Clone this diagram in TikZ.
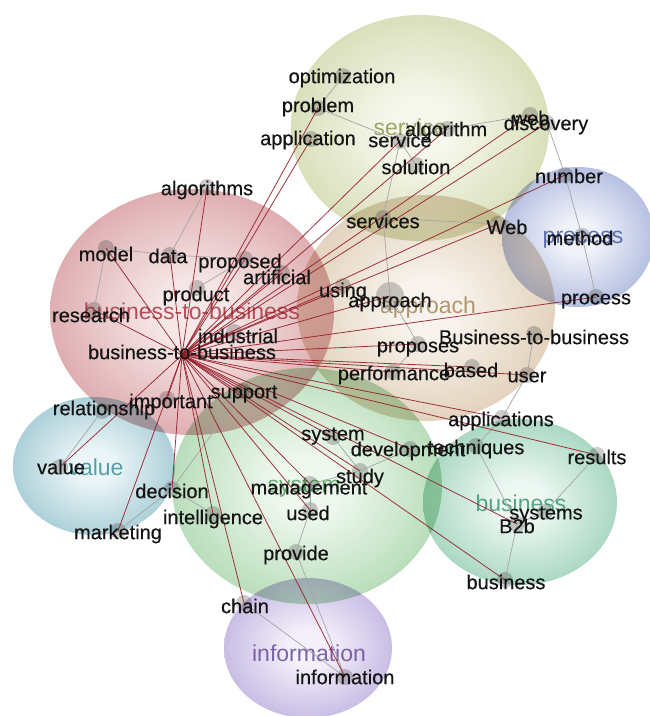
\documentclass[tikz,border=0pt]{standalone}
\usepackage{fontspec}
\setmainfont{Liberation Sans}
\newfontfamily\lblfont[FakeBold=0.4]{Liberation Sans}
\definecolor{rO}{RGB}{198,112,118}\definecolor{rI}{RGB}{246,230,230}
\definecolor{oO}{RGB}{186,198,134}\definecolor{oI}{RGB}{246,248,236}
\definecolor{tO}{RGB}{204,176,138}\definecolor{tI}{RGB}{248,243,236}
\definecolor{bO}{RGB}{120,138,200}\definecolor{bI}{RGB}{240,242,250}
\definecolor{vO}{RGB}{105,168,184}\definecolor{vI}{RGB}{234,245,247}
\definecolor{sO}{RGB}{128,194,132}\definecolor{sI}{RGB}{238,248,238}
\definecolor{gO}{RGB}{100,182,144}\definecolor{gI}{RGB}{236,248,242}
\definecolor{pO}{RGB}{156,134,206}\definecolor{pI}{RGB}{244,240,251}
\definecolor{redline}{RGB}{150,30,42}
\definecolor{grayline}{RGB}{165,165,165}
\definecolor{labR}{RGB}{165,55,65}
\definecolor{labO}{RGB}{140,152,80}
\definecolor{labT}{RGB}{165,135,90}
\definecolor{labB}{RGB}{70,92,165}
\definecolor{labV}{RGB}{60,145,155}
\definecolor{labS}{RGB}{80,160,90}
\definecolor{labG}{RGB}{60,150,110}
\definecolor{labP}{RGB}{105,75,155}
\newcommand\clshade[3]{\pgfdeclareradialshading{#1}{\pgfpoint{0bp}{0bp}}{color(0bp)=(#2); color(6bp)=(#2); color(42bp)=(#3); color(50bp)=(#3)}}
\clshade{shR}{rI}{rO}
\clshade{shO}{oI}{oO}
\clshade{shT}{tI}{tO}
\clshade{shB}{bI}{bO}
\clshade{shV}{vI}{vO}
\clshade{shS}{sI}{sO}
\clshade{shG}{gI}{gO}
\clshade{shP}{pI}{pO}
\begin{document}
\begin{tikzpicture}[x=1pt,y=-1pt,
  lbl/.style={inner sep=0pt,text=black!92,font=\lblfont\fontsize{20}{20}\selectfont},
  clab/.style={inner sep=0pt,text opacity=0.85,font=\fontsize{23}{23}\selectfont},
  dot/.style={circle,fill=black,fill opacity=0.2,minimum size=16pt,inner sep=0pt},
  bigdot/.style={circle,fill=black,fill opacity=0.2,minimum size=28pt,inner sep=0pt},
  hubdot/.style={circle,fill=redline,minimum size=3pt,inner sep=0pt},
  rl/.style={draw=redline,line width=0.8pt,opacity=0.9},
  gl/.style={draw=grayline,line width=0.7pt},
  blob/.style={blend mode=multiply,fill opacity=0.92}]
\useasboundingbox (0,0) rectangle (650,716);
\fill[white] (0,0) rectangle (650,716);
% clusters
\shade[blob,shading=shR] (192,312) ellipse [x radius=142,y radius=123];
\shade[blob,shading=shV] (94,466) ellipse [x radius=81,y radius=69];
\shade[blob,shading=shS] (307,486) ellipse [x radius=135,y radius=118];
\shade[blob,shading=shP] (308,648) ellipse [x radius=84,y radius=70];
\shade[blob,shading=shG] (520,502) ellipse [x radius=97,y radius=83];
\shade[blob,shading=shO] (420,128) ellipse [x radius=129,y radius=113];
\shade[blob,shading=shT] (426,308) ellipse [x radius=129,y radius=113];
\shade[blob,shading=shB] (578,237) ellipse [x radius=76,y radius=70];
% cluster labels
\node[clab,text=labR] (c-b2b) at (192,311) {business-to-business};
\node[clab,text=labO] (c-service) at (410,127) {service};
\node[clab,text=labT] (c-approach) at (428,308) {approach};
\node[clab,text=labB] (c-process) at (583,240) {process};
\node[clab,text=labV] (c-value) at (96,467) {value};
\node[clab,text=labS] (c-system) at (304,487) {system};
\node[clab,text=labG] (c-business) at (521,503) {business};
\node[clab,text=labP] (c-information) at (309,653) {information};
% dots
\node[dot] (optimization) at (343,76) {};
\node[dot] (problem) at (318,108) {};
\node[dot] (application) at (311,139) {};
\node[dot] (service) at (400,141) {};
\node[dot] (algorithm) at (447,129) {};
\node[dot] (web) at (530,115) {};
\node[dot] (discovery) at (547,123) {};
\node[dot] (solution) at (416,165) {};
\node[dot] (number) at (565,175) {};
\node[dot] (services) at (383,218) {};
\node[dot] (Web) at (498,224) {};
\node[dot] (method) at (582,236) {};
\node[dot] (algorithms) at (207,187) {};
\node[dot] (model) at (106,248) {};
\node[dot] (data) at (170,255) {};
\node[dot] (proposed) at (245,259) {};
\node[dot] (artificial) at (282,273) {};
\node[dot] (product) at (197,288) {};
\node[dot] (using) at (343,286) {};
\node[bigdot] (approach) at (390,296) {};
\node[dot] (research) at (94,310) {};
\node[dot] (industrial) at (234,332) {};
\node[dot] (B2Bcap) at (534,334) {};
\node[dot] (process) at (596,297) {};
\node[dot] (proposes) at (418,344) {};
\node[dot] (performance) at (393,372) {};
\node[dot] (based) at (472,367) {};
\node[dot] (user) at (527,375) {};
\node[dot] (relationship) at (102,411) {};
\node[dot] (important) at (167,399) {};
\node[dot] (support) at (243,391) {};
\node[dot] (applications) at (502,418) {};
\node[dot] (system) at (333,437) {};
\node[dot] (development) at (410,449) {};
\node[dot] (techniques) at (476,446) {};
\node[dot] (results) at (597,455) {};
\node[dot] (value) at (60,467) {};
\node[dot] (study) at (360,471) {};
\node[dot] (management) at (310,484) {};
\node[dot] (decision) at (172,489) {};
\node[dot] (used) at (310,510) {};
\node[dot] (intelligence) at (213,514) {};
\node[dot] (marketing) at (118,531) {};
\node[dot] (systems) at (545,512) {};
\node[dot] (B2b) at (517,524) {};
\node[dot] (provide) at (296,552) {};
\node[dot] (business) at (505,580) {};
\node[dot] (chain) at (244,603) {};
\node[dot] (information) at (345,677) {};
\node[hubdot] (hub) at (182,355) {};
% gray connectors
\foreach \a/\b in {optimization/problem,problem/service,service/algorithm,algorithm/web,
  service/solution,service/services,services/Web,services/approach,discovery/number,
  number/method,method/process,approach/proposes,proposes/performance,B2Bcap/user,
  user/applications,applications/techniques,techniques/B2b,results/systems,systems/B2b,
  B2b/business,development/study,system/study,study/management,management/used,used/provide,
  provide/information,chain/information,decision/intelligence,decision/marketing,
  relationship/value,decision/support,model/data,model/research,data/algorithms,
  data/proposed,proposed/product}
  \draw[gl] (\a.center) -- (\b.center);
% red connectors from the hub
\foreach \b in {algorithms,data,model,research,proposed,artificial,problem,application,
  service,algorithm,web,discovery,number,Web,using,approach,process,proposes,based,user,
  performance,applications,results,system,development,study,B2b,business,management,used,
  information,chain,intelligence,decision,marketing,value,important,support,industrial}
  \draw[rl] (hub.center) -- (\b.center);
% word labels
\node[lbl] (l-optimization) at (342,78) {optimization};
\node[lbl] (l-problem) at (318,107) {problem};
\node[lbl] (l-application) at (308,140) {application};
\node[lbl] (l-service) at (400,140) {service};
\node[lbl] (l-algorithm) at (446,131) {algorithm};
\node[lbl] (l-web) at (531,118) {web};
\node[lbl] (l-discovery) at (546,125) {discovery};
\node[lbl] (l-solution) at (416,167) {solution};
\node[lbl] (l-number) at (569,176) {number};
\node[lbl] (l-services) at (383,221) {services};
\node[lbl] (l-Web) at (507,227) {Web};
\node[lbl] (l-method) at (580,238) {method};
\node[lbl] (l-algorithms) at (207,190) {algorithms};
\node[lbl] (l-model) at (106,254) {model};
\node[lbl] (l-data) at (168,256) {data};
\node[lbl] (l-proposed) at (240,263) {proposed};
\node[lbl] (l-artificial) at (277,277) {artificial};
\node[lbl] (l-product) at (196,296) {product};
\node[lbl] (l-using) at (343,292) {using};
\node[lbl] (l-approach) at (390,302) {approach};
\node[lbl] (l-research) at (91,315) {research};
\node[lbl] (l-industrial) at (238,336) {industrial};
\node[lbl] (l-hub) at (182,352) {business-to-business};
\node[lbl] (l-B2Bcap) at (534,337) {Business-to-business};
\node[lbl] (l-process) at (596,301) {process};
\node[lbl] (l-proposes) at (418,349) {proposes};
\node[lbl] (l-performance) at (394,375) {performance};
\node[lbl] (l-based) at (471,370) {based};
\node[lbl] (l-user) at (527,377) {user};
\node[lbl] (l-relationship) at (104,410) {relationship};
\node[lbl] (l-important) at (171,403) {important};
\node[lbl] (l-support) at (244,394) {support};
\node[lbl] (l-applications) at (501,421) {applications};
\node[lbl] (l-system) at (333,436) {system};
\node[lbl] (l-development) at (408,451) {development};
\node[lbl] (l-techniques) at (476,449) {techniques};
\node[lbl] (l-results) at (597,457) {results};
\node[lbl] (l-value) at (61,467) {value};
\node[lbl] (l-study) at (360,478) {study};
\node[lbl] (l-management) at (309,490) {management};
\node[lbl] (l-decision) at (172,491) {decision};
\node[lbl] (l-used) at (308,513) {used};
\node[lbl] (l-intelligence) at (213,519) {intelligence};
\node[lbl] (l-marketing) at (118,534) {marketing};
\node[lbl] (l-systems) at (546,515) {systems};
\node[lbl] (l-B2b) at (517,526) {B2b};
\node[lbl] (l-provide) at (296,555) {provide};
\node[lbl] (l-business) at (506,582) {business};
\node[lbl] (l-chain) at (245,606) {chain};
\node[lbl] (l-information) at (345,677) {information};
\end{tikzpicture}
\end{document}
